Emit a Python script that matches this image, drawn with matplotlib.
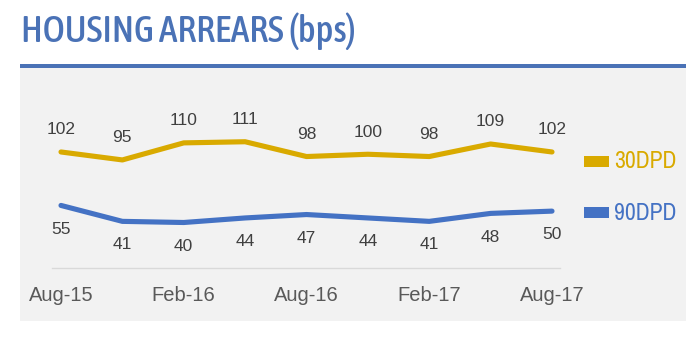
import matplotlib
matplotlib.use("Agg")
import matplotlib.pyplot as plt
from matplotlib.patches import Rectangle
from matplotlib import font_manager as fm

# Quarterly housing arrears, basis points
periods = ["Aug-15", "Nov-15", "Feb-16", "May-16", "Aug-16", "Nov-16", "Feb-17", "May-17", "Aug-17"]
dpd30 = [102, 95, 110, 111, 98, 100, 98, 109, 102]
dpd90 = [55, 41, 40, 44, 47, 44, 41, 48, 50]
tick_labels = ["Aug-15", "Feb-16", "Aug-16", "Feb-17", "Aug-17"]
series_names = ["30DPD", "90DPD"]

GOLD = "#D9AA00"
BLUE = "#4472C4"
TITLE_BLUE = "#4A72B6"
PANEL = "#F2F2F2"
TEXT = "#404040"


def _wnum(w):
    if isinstance(w, int):
        return w
    return {"normal": 400, "regular": 400, "book": 400, "medium": 500,
            "semibold": 600, "demibold": 600, "bold": 700, "light": 300}.get(str(w), 400)


def condensed_font(target_weight=400):
    """Pick an installed narrow/condensed sans face, if there is one."""
    found = []
    for f in fm.fontManager.ttflist:
        n = f.name + " " + f.fname
        narrowish = ("Narrow" in n or "Condensed" in n
                     or f.stretch in ("condensed", "semi-condensed", "extra-condensed"))
        if narrowish and f.style == "normal":
            found.append(f)
    if not found:
        return None

    def key(f):
        extra = 1 if any(s in f.fname for s in ("Extra", "Ultra", "Semi")) else 0
        return (extra, abs(_wnum(f.weight) - target_weight), f.name)

    found.sort(key=key)
    return fm.FontProperties(fname=found[0].fname)


W, H = 697, 338
fig = plt.figure(figsize=(W / 100, H / 100), dpi=100)
fig.patch.set_facecolor("white")


def px_box(x0, y0, x1, y1):
    return [x0 / W, 1 - y1 / H, (x1 - x0) / W, (y1 - y0) / H]


# grey backdrop panel and the blue rule under the heading
bg = fig.add_axes([0, 0, 1, 1])
bg.set_xlim(0, W)
bg.set_ylim(H, 0)
bg.axis("off")
bg.add_patch(Rectangle((20, 66), 666, 255, color=PANEL, lw=0))
bg.add_patch(Rectangle((20, 64), 666, 3.5, color=TITLE_BLUE, lw=0))

regular = ["Liberation Sans", "DejaVu Sans"]
title_fp = condensed_font(500)
legend_fp = condensed_font(400)

if title_fp is not None:
    title_fp.set_size(27)
    bg.text(21, 42, "HOUSING ARREARS (bps)", fontproperties=title_fp,
            color=TITLE_BLUE, ha="left", va="baseline")
else:
    bg.text(21, 42, "HOUSING ARREARS (bps)", fontsize=19, color=TITLE_BLUE,
            family=regular, ha="left", va="baseline")

# chart area
ax = fig.add_axes(px_box(52, 86, 560, 268))
ax.set_facecolor("none")
x = list(range(len(periods)))
ax.plot(x, dpd30, color=GOLD, lw=3.7, solid_capstyle="round", solid_joinstyle="round")
ax.plot(x, dpd90, color=BLUE, lw=3.7, solid_capstyle="round", solid_joinstyle="round")
ax.set_xlim(-9 / 61.4, 8 + 8 / 61.4)
ax.set_ylim(0, 160)

for xi, v in zip(x, dpd30):
    ax.annotate(str(v), (xi, v), xytext=(0, 16), textcoords="offset points",
                ha="center", va="center", fontsize=12.5, color=TEXT, family=regular)
for xi, v in zip(x, dpd90):
    ax.annotate(str(v), (xi, v), xytext=(0, -17), textcoords="offset points",
                ha="center", va="center", fontsize=12.5, color=TEXT, family=regular)

for s in ["top", "right", "left"]:
    ax.spines[s].set_visible(False)
ax.spines["bottom"].set_color("#D9D9D9")
ax.spines["bottom"].set_linewidth(1.0)
ax.set_yticks([])
tick_pos = [periods.index(t) for t in tick_labels]
ax.set_xticks(tick_pos)
ax.set_xticklabels(tick_labels, fontsize=14.5, color="#595959", family=regular)
ax.tick_params(axis="x", length=0, pad=13)

# legend
for name, col, yc in zip(series_names, [GOLD, BLUE], [161, 212]):
    bg.add_patch(Rectangle((584, yc - 5.5), 25, 11, color=col, lw=0))
    if legend_fp is not None:
        fp = legend_fp.copy()
        fp.set_size(17)
        bg.text(614, yc + 1, name, fontproperties=fp, color=col,
                ha="left", va="center")
    else:
        bg.text(614, yc + 1, name, fontsize=13.5, color=col, family=regular,
                ha="left", va="center")

fig.savefig("out.png", dpi=100, facecolor="white")
